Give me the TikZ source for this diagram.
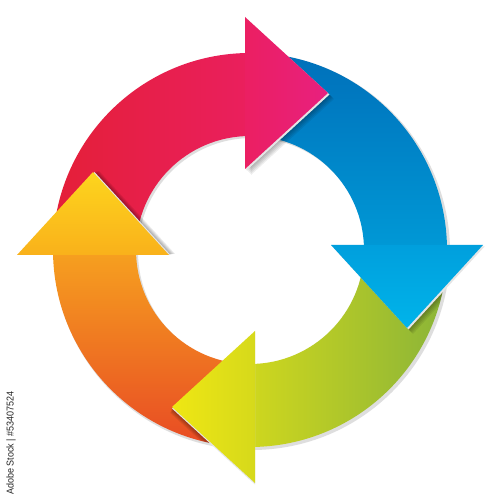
\documentclass[tikz,border=0pt]{standalone}
\usepackage{fontspec}
\setsansfont{Liberation Sans}
\definecolor{redA}{HTML}{E41F38}
\definecolor{redB}{HTML}{EA1F5E}
\definecolor{redC}{HTML}{EB1F62}
\definecolor{redD}{HTML}{E8207F}
\definecolor{blueA}{HTML}{0070BA}
\definecolor{blueB}{HTML}{0099D6}
\definecolor{blueC}{HTML}{009FDD}
\definecolor{blueD}{HTML}{00B4EA}
\definecolor{greenA}{HTML}{8AB438}
\definecolor{greenB}{HTML}{CFD71E}
\definecolor{greenC}{HTML}{D6D91B}
\definecolor{greenD}{HTML}{EFE713}
\definecolor{orangeA}{HTML}{E84A24}
\definecolor{orangeB}{HTML}{F6A11F}
\definecolor{orangeC}{HTML}{F9B11B}
\definecolor{orangeD}{HTML}{FDD51D}
\begin{document}
\begin{tikzpicture}[x=1pt,y=1pt,
  shadowlayer/.style={fill=black, fill opacity=0.07, draw=none}]
\useasboundingbox (0,0) rectangle (500,500);
\fill[white] (0,0) rectangle (500,500);

% ring drop shadow
\fill[black!13, even odd rule, shift={(2,-2)}] (250,250) circle[radius=198pt] (250,250) circle[radius=114pt];

% arcs
\shade[left color=redA, right color=redB] (53,250) arc[start angle=180, end angle=90, radius=197pt] -- (250,364) arc[start angle=90, end angle=180, radius=114pt] -- cycle;
\shade[top color=blueA, bottom color=blueB] (250,447) arc[start angle=90, end angle=0, radius=197pt] -- (364,250) arc[start angle=0, end angle=90, radius=114pt] -- cycle;
\shade[left color=greenB, right color=greenA] (447,250) arc[start angle=0, end angle=-90, radius=197pt] -- (250,136) arc[start angle=-90, end angle=0, radius=114pt] -- cycle;
\shade[top color=orangeB, bottom color=orangeA] (250,53) arc[start angle=270, end angle=180, radius=197pt] -- (136,250) arc[start angle=180, end angle=270, radius=114pt] -- cycle;

% soft shadows of the heads, on the ring
\begin{scope}
\clip (250,250) circle[radius=197pt];
\foreach \k in {1,...,6}{
  \fill[shadowlayer, shift={(\k,-\k)}] (245,483) -- (328,407) -- (245,331) -- cycle;
  \fill[shadowlayer, shift={(\k,-\k)}] (331,255) -- (483,255) -- (407,172) -- cycle;
  \fill[shadowlayer, shift={(-0.3*\k,-\k)}] (255,169) -- (255,17) -- (172,93) -- cycle;
  \fill[shadowlayer, shift={(\k,0.2*\k)}] (17,245) -- (169,245) -- (93,328) -- cycle;
}
\end{scope}
% faint shadows on the paper
\fill[black!10, shift={(1.5,-1.5)}] (245,483) -- (328,407) -- (245,331) -- cycle;
\fill[black!10, shift={(1.5,-1.5)}] (331,255) -- (483,255) -- (407,172) -- cycle;
\fill[black!10, shift={(0,-1.5)}] (255,169) -- (255,17) -- (172,93) -- cycle;
\fill[black!10, shift={(1.5,0)}] (17,245) -- (169,245) -- (93,328) -- cycle;

% heads
\shade[left color=redC, right color=redD] (245,483) -- (328,407) -- (245,331) -- cycle;
\shade[top color=blueC, bottom color=blueD] (331,255) -- (483,255) -- (407,172) -- cycle;
\shade[left color=greenD, right color=greenC] (255,169) -- (255,17) -- (172,93) -- cycle;
\shade[top color=orangeD, bottom color=orangeC] (17,245) -- (169,245) -- (93,328) -- cycle;

% credit line
\node[rotate=90, xscale=0.9, inner sep=0pt, text=black!85,
      font=\sffamily\fontsize{10}{12}\selectfont] (credit) at (11,57) {Adobe Stock | \#53407524};
\end{tikzpicture}
\end{document}
